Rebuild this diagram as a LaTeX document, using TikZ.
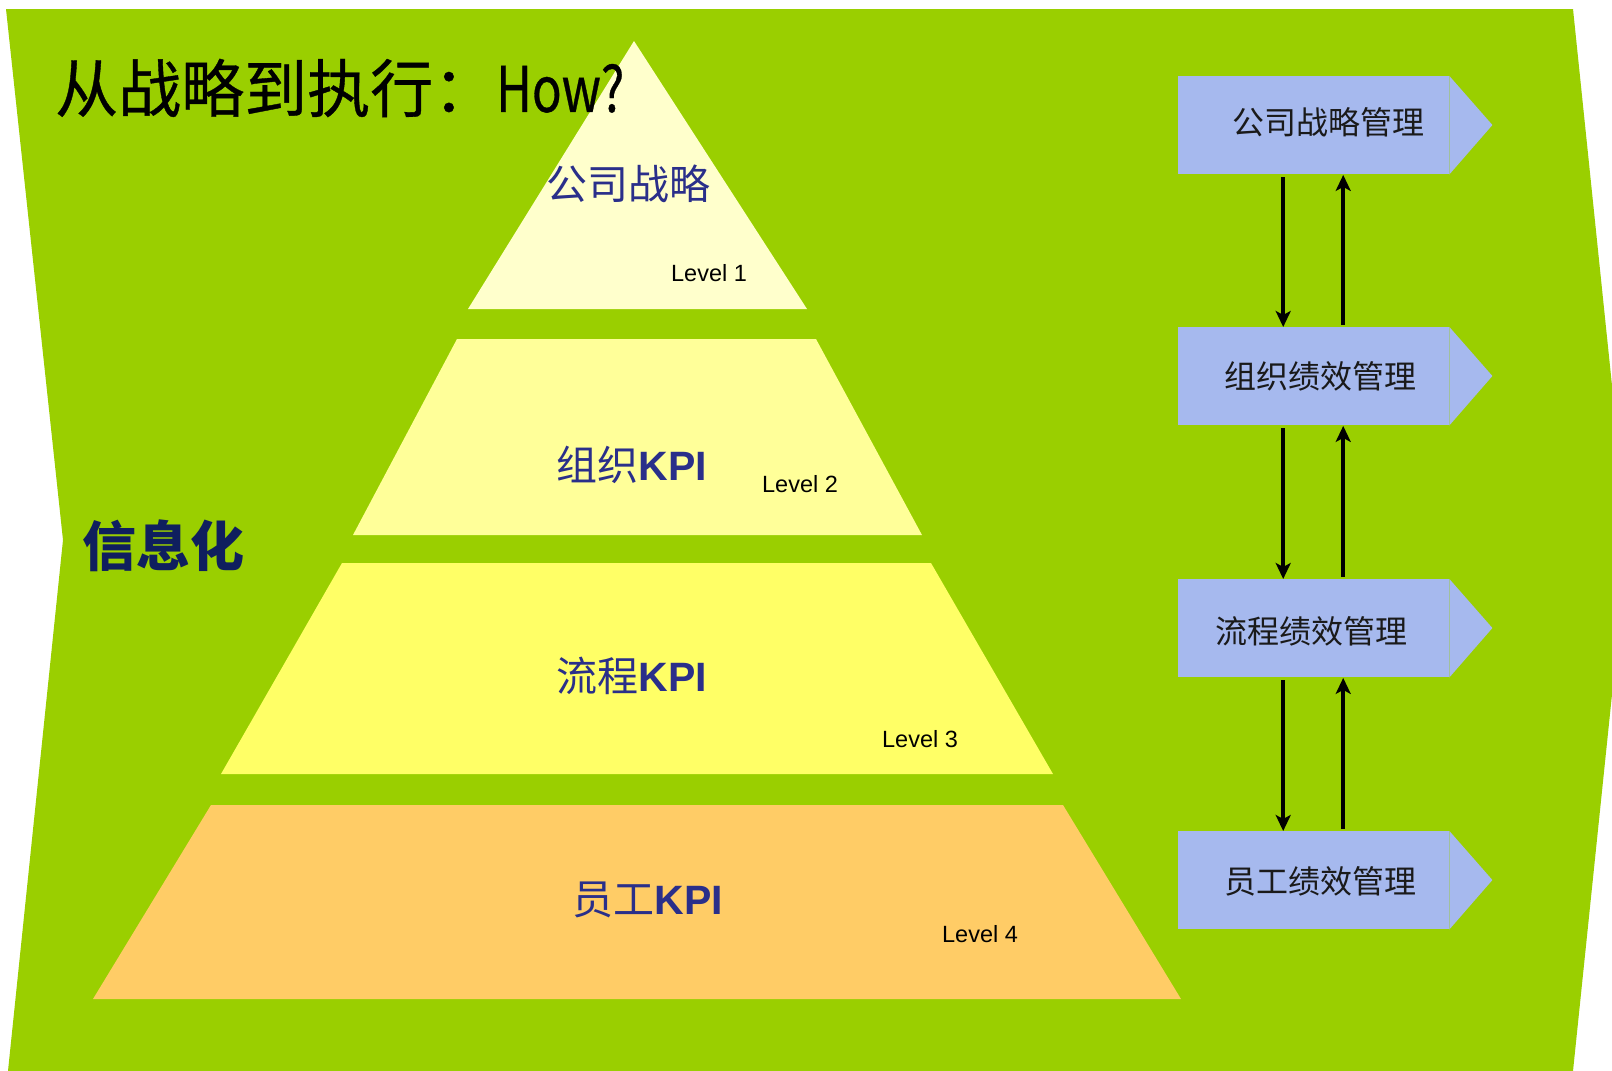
\documentclass[tikz,border=0pt]{standalone}
\usepackage{fontspec}
\setmainfont{Liberation Sans}
\newfontfamily\cjk{Noto Sans CJK SC}
\newfontfamily\cjktitle[FakeBold=0.6]{Noto Sans CJK SC}
\usetikzlibrary{arrows.meta,calc}
\definecolor{bggreen}{HTML}{9ACF00}
\definecolor{boxblue}{HTML}{A6B9EE}
\definecolor{tierA}{HTML}{FFFFCC}
\definecolor{tierB}{HTML}{FFFF99}
\definecolor{tierC}{HTML}{FFFF66}
\definecolor{tierD}{HTML}{FFCC66}
\definecolor{pyrnavy}{HTML}{2A2F8A}
\definecolor{infonavy}{HTML}{0F1F5E}
\definecolor{boxtext}{HTML}{1A1A1A}
\tikzset{
  pyrtext/.style={inner sep=0pt, text=pyrnavy, font=\fontsize{41}{41}\selectfont},
  leveltext/.style={inner sep=0pt, text=black, font=\fontsize{23.5}{24}\selectfont},
  mgmtbox/.style={fill=boxblue, minimum width=271pt, minimum height=98pt, inner sep=0pt, anchor=north west},
  mgmttext/.style={inner sep=0pt, text=boxtext, font=\cjk\fontsize{32}{32}\selectfont},
  flowarrow/.style={line width=4pt, -{Stealth[length=16pt,width=15pt,inset=4pt]}}
}
\begin{document}
\begin{tikzpicture}[x=1pt,y=-1pt]
\useasboundingbox (0,0) rectangle (1612,1071);
\fill[white] (0,0) rectangle (1612,1071);
\begin{scope}
\clip (0,0) rectangle (1612,1071);
\fill[bggreen] (6,9) -- (1573,9) -- (1628,540) -- (1573,1071) -- (8,1071) -- (63,540) -- cycle;
\end{scope}

% pyramid tiers
\fill[tierA] (634,41) -- (807,309) -- (468,309) -- cycle;
\fill[tierB] (457,339) -- (816,339) -- (922,535) -- (353,535) -- cycle;
\fill[tierC] (342,563) -- (931,563) -- (1053,774) -- (221,774) -- cycle;
\fill[tierD] (211,805) -- (1063,805) -- (1181,999) -- (93,999) -- cycle;

% title
\node[anchor=west, inner sep=0pt, font=\cjktitle\fontsize{63}{63}\selectfont] (title) at (55,88) {从战略到执行：\scalebox{0.78}[1]{How?}};

% side label
\node[inner sep=0pt, text=infonavy, font=\cjk\bfseries\fontsize{54}{54}\selectfont] (info) at (163,546) {信息化};

% pyramid texts
\node[pyrtext] (p1) at (628,184) {\cjk 公司战略};
\node[pyrtext] (p2) at (632,465) {{\cjk 组织}\textbf{KPI}};
\node[pyrtext] (p3) at (632,676) {{\cjk 流程}\textbf{KPI}};
\node[pyrtext] (p4) at (648,900) {{\cjk 员工}\textbf{KPI}};

\node[leveltext] (v1) at (709,273) {Level 1};
\node[leveltext] (v2) at (800,484) {Level 2};
\node[leveltext] (v3) at (920,739) {Level 3};
\node[leveltext] (v4) at (980,934) {Level 4};

% management boxes
\node[mgmtbox] (b1) at (1178,76) {};
\node[mgmtbox] (b2) at (1178,327) {};
\node[mgmtbox] (b3) at (1178,579) {};
\node[mgmtbox] (b4) at (1178,831) {};
\foreach \b in {b1,b2,b3,b4}{
  \fill[boxblue] (\b.north east) -- ++(43,49) -- (\b.south east) -- cycle;
}
\node[mgmttext] (t1) at (1328,122) {公司战略管理};
\node[mgmttext] (t2) at (1320,376) {组织绩效管理};
\node[mgmttext] (t3) at (1311,631) {流程绩效管理};
\node[mgmttext] (t4) at (1320,881) {员工绩效管理};

% arrows
\foreach \u/\l in {b1/b2,b2/b3,b3/b4}{
  \draw[flowarrow] ([xshift=-30.5pt,yshift=-3pt]\u.south) -- ([xshift=-30.5pt]\l.north);
  \draw[flowarrow] ([xshift=29.5pt,yshift=2pt]\l.north) -- ([xshift=29.5pt,yshift=-0.5pt]\u.south);
}
\end{tikzpicture}
\end{document}
